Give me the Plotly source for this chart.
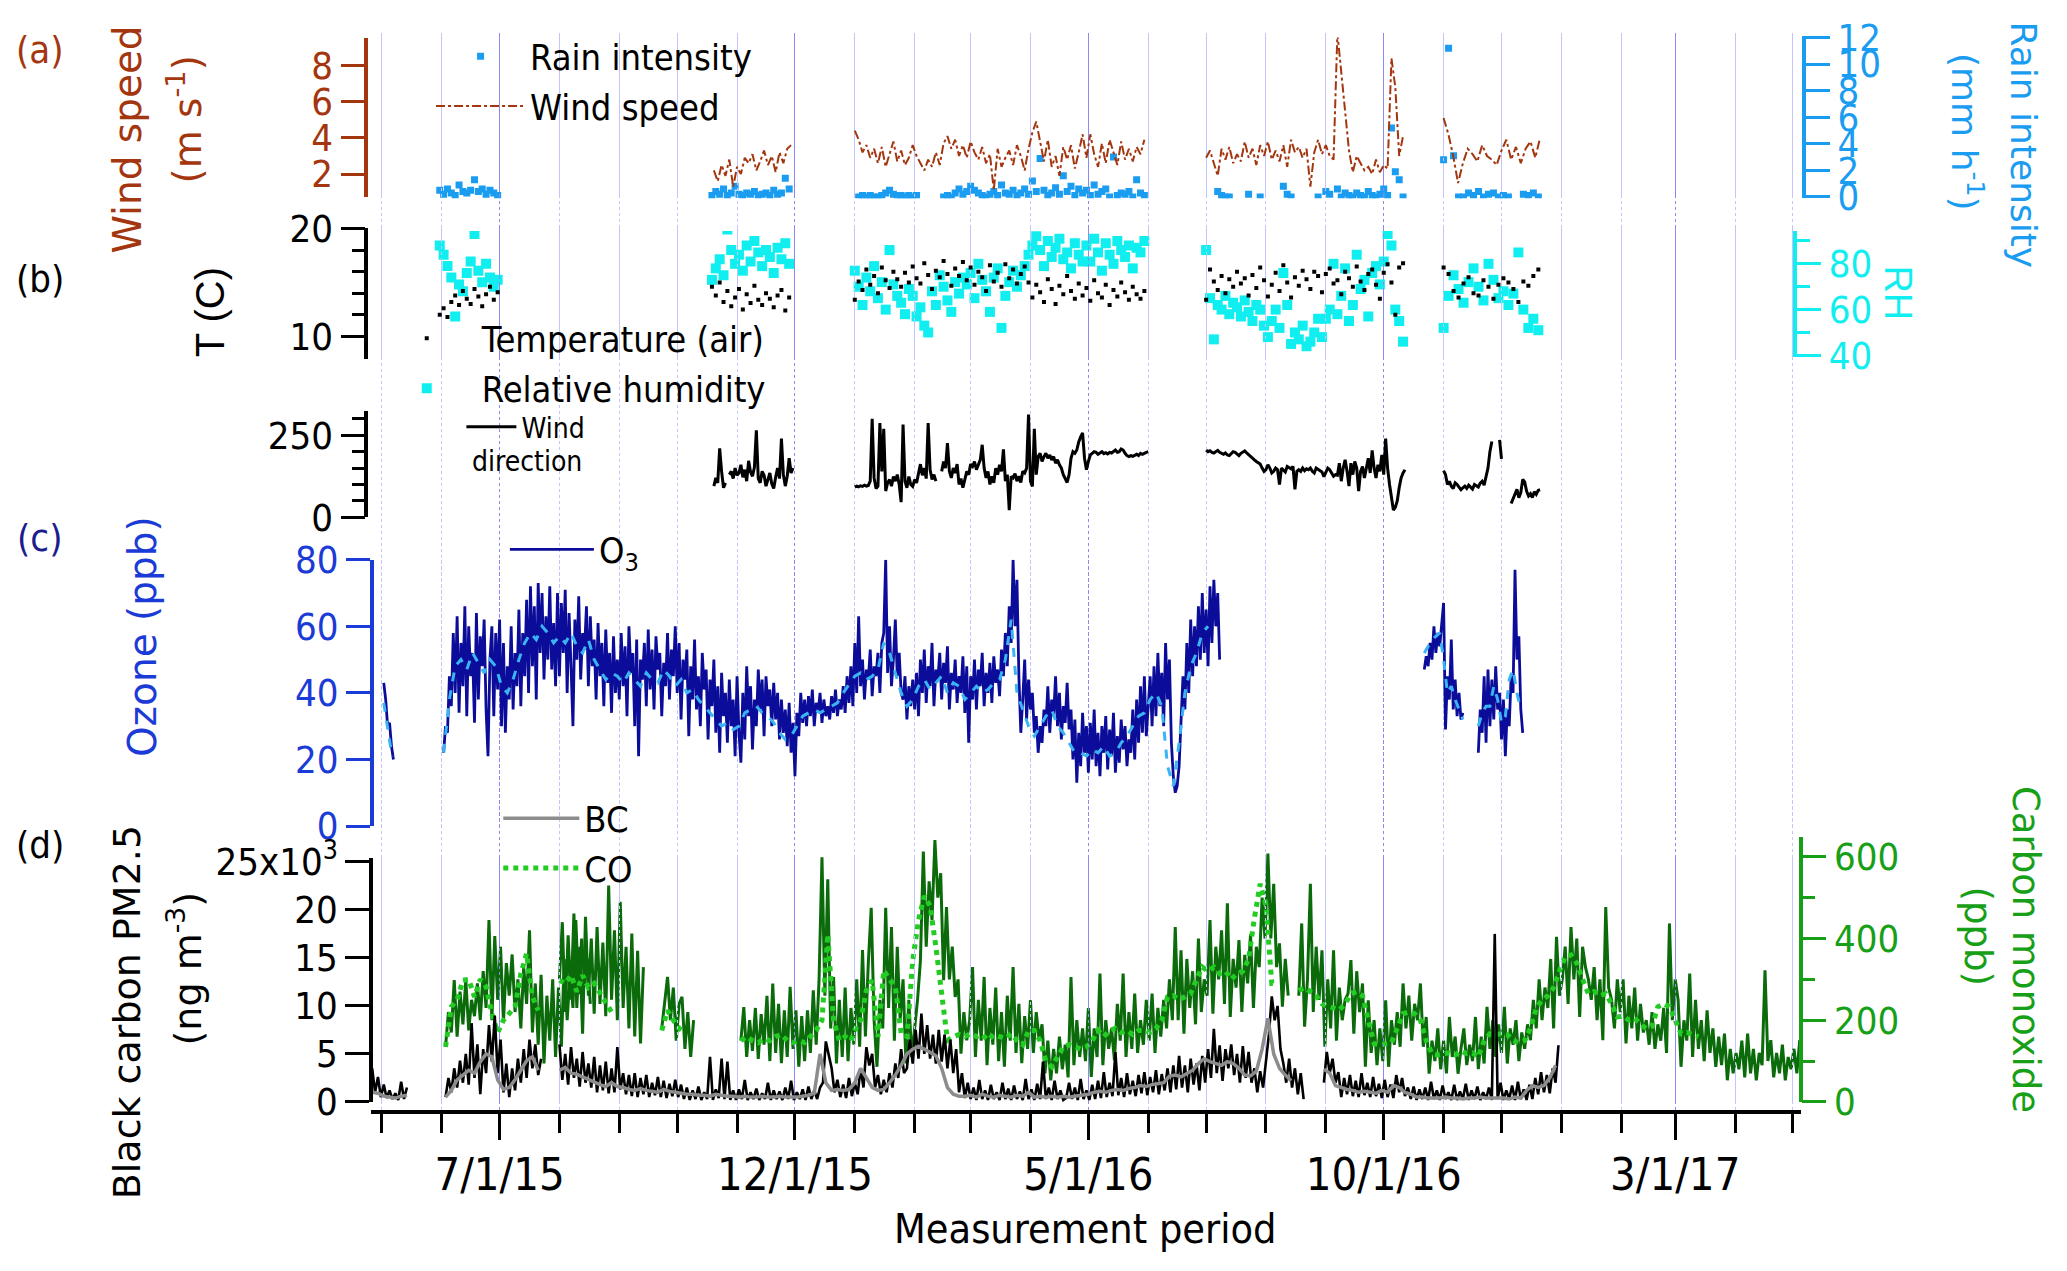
import pandas as pd
import plotly.graph_objects as go

# ---------------------------------------------------------------- data
# Wind speed (m s-1), segments: (start, step, values)
WS_STARTS = ["2015-10-20", "2016-01-01", "2016-07-01", "2016-11-01"]
WS_STEPS = ["2D", "2D", "2D", "60h"]
WS_1 = [2.2, 1.6, 2.5, 1.9, 2.8, 1.3, 2.4, 2.0, 2.9, 2.6, 3.1, 2.2, 2.7, 3.3, 2.5, 3.0, 2.1, 3.2, 2.6, 3.4, 3.6]
WS_2 = [4.4, 3.9, 3.2, 3.6, 2.9, 3.4, 2.6, 3.5, 2.4, 3.1, 3.8, 2.7, 3.3, 2.5, 2.9,
        3.6, 3.0, 2.6, 2.2, 2.8, 2.4, 3.2, 2.5, 3.7, 4.1, 3.4, 3.9, 3.0, 3.6,
        2.9, 3.8, 3.2, 2.8, 3.5, 2.6, 3.1, 1.1, 3.4, 2.4, 2.9, 3.3, 2.5, 3.6, 3.0, 2.2,
        3.4, 4.3, 4.9, 3.8, 2.7, 3.9, 2.4, 3.0, 1.9, 3.5, 2.8, 3.6, 2.3, 3.2, 4.2,
        2.9, 4.2, 3.1, 2.4, 3.7, 2.6, 3.9, 3.2, 2.5, 3.8, 2.8, 3.4, 2.7, 3.5, 3.1, 3.9]
WS_3 = [2.9, 3.3, 2.6, 1.9, 3.4, 2.8, 3.5, 2.6, 3.1, 2.7, 3.8, 2.9, 3.4, 2.5, 3.6, 3.0, 3.8, 2.8,
        3.3, 2.7, 3.6, 2.4, 3.9, 3.2, 3.5, 2.9, 3.4, 1.3, 3.2, 3.9, 3.1, 3.6, 3.0, 2.8, 9.8, 7.5,
        5.5, 3.3, 2.1, 3.0, 2.6, 2.2, 2.4, 2.0, 2.8, 2.1, 2.5, 2.3, 8.4, 6.8, 3.0, 4.1]
WS_4 = [5.1, 4.2, 3.0, 1.5, 2.6, 3.4, 3.1, 2.7, 3.6, 3.0, 2.8, 2.5, 3.3, 3.9, 2.8, 3.5, 2.6, 3.4, 3.8, 2.9, 4.0]

# Rain intensity (mm h-1)
RAIN_STARTS = ["2015-05-31", "2015-10-19", "2016-01-03", "2016-07-03", "2016-11-01"]
RAIN_STEPS = ["2D", "2D", "2D", "2D", "62h"]
RAIN_1 = [0.5, 0.2, 0.6, 0.3, 0.1, 0.9, 0.4, 0.3, 0.5, 1.3, 0.4, 0.6, 0.2, 0.5, 0.3, 0.1]
RAIN_2 = [0.1, 0.4, 0.2, 0.6, 0.1, 0.3, 0.8, 0.2, 0.1, 0.3, 0.2, 0.4, 0.1, 0.2, 0.3, 0.1, 0.5, 0.2, 0.3, 1.4, 0.6]
RAIN_3 = [0.0, 0.1, 0.0, 0.1, 0.0, 0.0, 0.1, 0.3, 0.5, 0.2, 0.1, 0.1, 0.0, 0.1, 0.0, 0.1,
          None, None, None, None, None, None,
          0.0, 0.1, 0.0, 0.3, 0.6, 0.2, 0.4, 0.8, 0.5, 0.3, 0.1, 0.0, 0.2, 0.4, 0.1, 0.9, 0.3, 0.2,
          0.5, 0.1, 0.3, 0.6, 0.2, 1.2, 0.4, 2.9, 0.5, 0.1, 0.3, 0.7, 0.2, 1.6, 0.4, 0.8, 0.1, 0.6,
          0.3, 0.5, 0.1, 0.9, 0.2, 0.4, 0.6, 0.0, 3.0, 0.1, 0.3, 0.2, 0.4, 0.0, 1.3, 0.3, 0.1]
RAIN_4 = [None, None, 0.4, 0.1, 0.0, 0.0, None, None, None, None, 0.2, None, None, 0.0, None, None,
          None, None, None, 0.8, 0.2, 0.0, None, None, None, None, None, None, 0.0, None, 0.4, 0.2,
          None, 0.6, 0.0, 0.3, 0.1, 0.0, 0.3, 0.1, 0.0, 0.4, 0.1, 0.0, 0.2, 0.6, 0.1, 5.2, 1.9, 1.3, 0.0]
RAIN_5 = [2.8, 11.2, 3.1, 0.0, 0.0, 0.3, 0.1, 0.4, 0.0, 0.2, 0.3, 0.0, 0.1, 0.0, None, None, 0.2, 0.1, 0.3, 0.0]

# Air temperature (C)
T_STARTS = ["2015-05-31", "2015-10-19", "2016-01-01", "2016-07-01", "2016-11-01"]
T_STEPS = ["2D", "2D", "2D", "2D", "62h"]
T_1 = [12.0, 12.6, 11.8, 13.2, 13.8, 12.9, 14.2, 13.5, 13.0, 14.4, 13.7, 12.8, 13.9, 14.6, 13.4, 14.1]
T_2 = [14.6, 13.8, 15.0, 13.2, 14.2, 12.8, 13.6, 14.4, 12.5, 13.9, 13.1, 14.7, 13.4, 12.9, 14.0, 13.5,
       12.7, 13.8, 14.3, 12.4, 13.6]
T_3 = [13.4, 15.1, 14.3, 16.2, 14.8, 15.6, 14.0, 16.4, 15.2, 14.5, 16.0, 15.3, 14.6, 15.9, 15.0,
       16.5, 15.4, 14.9, 16.8, 15.7, 14.4, 16.1, 15.5, 17.0, 15.8, 14.7, 16.3, 15.6, 16.9,
       15.2, 16.4, 14.8, 16.0, 15.5, 14.2, 16.6, 15.1, 15.9, 14.6, 16.7, 15.4, 16.2, 14.9, 15.8, 16.5,
       15.0, 13.6, 14.8, 14.1, 13.2, 15.3, 14.4, 13.0, 14.7, 13.9, 15.6, 14.2, 13.5, 14.9, 13.8,
       14.5, 13.3, 15.2, 14.0, 13.6, 14.8, 12.9, 14.3, 13.7, 15.0, 14.1, 13.4, 14.6, 13.9, 13.5, 14.2]
T_4 = [13.4, 16.2, 15.1, 14.3, 15.6, 14.0, 15.3, 14.6, 16.0, 14.9, 15.4, 13.8, 15.7, 14.5, 16.4, 15.2,
       13.7, 14.8, 15.9, 14.2, 16.6, 15.0, 13.6, 15.5, 14.7, 16.1, 15.3, 14.4, 16.0, 15.6, 14.1, 15.8,
       16.3, 14.9, 15.2, 13.9, 16.0, 15.4, 14.6, 16.5, 15.1, 14.3, 15.8, 16.2, 14.8, 13.5, 15.9, 16.7,
       15.0, 12.0, 16.4, 16.8]
T_5 = [16.4, 15.8, 14.2, 13.6, 14.9, 15.5, 14.0, 13.8, 15.2, 14.6, 13.5, 14.8, 15.4, 15.0, 14.4, 13.2,
       15.1, 14.7, 15.6, 16.2]

# Relative humidity (%)
RH_1 = [88, 84, 79, 74, 57, 71, 68, 76, 81, 93, 77, 72, 80, 74, 70, 73]
RH_2 = [73, 78, 82, 75, 95, 86, 80, 84, 77, 88, 81, 90, 85, 79, 86, 83, 76, 87, 82, 89, 80]
RH_3 = [77, 70, 62, 74, 68, 79, 65, 72, 60, 86, 71, 66, 63, 58, 69,
        66, 57, 61, 53, 50, 68, 62, 75, 70, 64, 59, 72, 67, 74,
        71, 76, 65, 80, 73, 68, 59, 74, 78, 52, 66, 72, 77, 70, 75, 79,
        84, 88, 92, 86, 79, 90, 83, 87, 91, 82, 85, 78, 89, 84, 81,
        88, 81, 91, 85, 77, 89, 84, 80, 90, 86, 83, 88, 78, 87, 85, 90]
RH_4 = [86, 65, 47, 62, 60, 66, 58, 63, 61, 57, 64, 59, 55, 62, 60, 53,
        48, 55, 60, 52, 76, 62, 45, 50, 47, 53, 44, 46, 50, 56, 48,
        56, 60, 80, 58, 66, 78, 55, 62, 84, 69, 73, 57, 76, 79, 71,
        81, 93, 88, 60, 55, 46]
RH_5 = [52, 66, 75, 69, 63, 72, 78, 70, 64, 80, 73, 65, 68, 62, 67, 85, 60, 52, 56, 51]

# Wind direction (deg), daily
WD_STARTS = ["2015-10-20", "2016-01-01", "2016-07-01", "2016-11-01", "2016-11-30", "2016-12-06"]
WD_1 = [95, 120, 105, 210, 140, 90, 105, None, 130, 140, 118, 150, 128, 135, 160, 122, 145, 110, 172, 138,
        125, 152, 265, 118, 105, 140, 128, 95, 115, 135, 102, 88, 122, 150, 118, 240, 130, 95, 125, 180,
        135, 150]
WD_2 = [92, 95, 93, 96, 94, 98, 95, 97, 110, 300, 120, 88, 95, 287, 140, 270, 80, 105, 115, 95,
        124, 110, 130, 100, 46, 283, 110, 90, 124, 100, 94, 115, 105, 140, 162, 128, 150, 118, 287, 145,
        115, 130, 110, None, None, 140, 170, 150, 226, 140, 120, 150, 135, 162, 100, 118, 90, 115, 140, 130,
        162, 155, 170, 145, 160, 175, 221, 150, 120, 140, 100, 125, 105, 150, 130, 160, 140, 207, 110, 130,
        22, 125, 120, 133, 110, 125, 106, 140, 135, 150, 313, 110, 94, 270, 130, 185, 195, 170, 185, 195,
        180, 190, 175, 185, 165, 175, 160, 150, 130, 115, 106, 130, 180, 200, 195, 205, 230, 245, 257, 180,
        145, 170, 190, 195, 200, 198, 192, 196, 200, 194, 197, 193, 198, 196, 200, 205, 198, 200, 208, 205,
        195, 188, 185, 188, 186, 190, 192, 188, 195, 192, 196, 198, 200]
WD_3 = [205, 200, 203, 198, 196, 200, 204, 198, 195, 192, 196, 190, 188, 194, 200, 198, 192, 188, 195, 198,
        202, 196, 190, 185, 178, 175, 170, 165, 162, 150, 140, 145, 160, 150, 135, 140, 150, 145, 100, 150,
        145, 138, 155, 150, 148, 155, 85, 140, 145, 140, 150, 142, 148, 145, 150, 140, 135, 150, 145, 142,
        138, 124, 140, 150, 145, 135, 125, 130, 128, 165, 110, 150, 175, 140, 95, 165, 130, 170, 150, 80,
        140, 155, 120, 150, 180, 135, 204, 150, 120, 160, 140, 190, 130, 240, 150, 100, 60, 22, 30, 50,
        90, 120, 135, 145]
WD_4 = [142, 130, 100, 110, 95, 88, 105, 100, 92, 84, 90, 95, 88, 98, 92, 86, 100, 96, 92, 104,
        110, 98, 120, 150, 200, 231]
WD_5 = [236, 178]
WD_6 = [42, 55, 70, 85, 60, 75, 115, 108, 80, 65, 72, 60, 78, 70, 82, 84]

# Ozone (ppb): dark = daily envelope, light = smoothed
O3_STARTS = ["2015-05-02", "2015-06-02", "2016-10-22", "2016-11-19"]
O3_1 = [43, 38, 30, 31, 24, 20]
O3_2 = [22, 30, 28, 45, 36, 58, 40, 63, 34, 55, 42, 66, 33, 60, 45, 52, 31, 64, 38, 57, 48, 62, 35, 21, 50, 60, 33, 58, 41,
        62, 30, 55, 28, 48, 38, 60, 35, 52, 42, 65, 36, 58, 45, 68, 40, 72, 48, 66, 38, 73, 52, 70, 44, 63, 50, 72, 47, 61, 42, 70,
        45, 67, 52, 71, 40, 64, 48, 30, 62, 50, 69, 44, 58, 53, 66, 42, 63, 48, 56, 38, 61, 45, 55, 36, 59, 43, 52, 34, 57, 40, 50,
        38, 58, 42, 54, 33, 60, 46, 52, 30, 56, 21, 50, 44, 55, 36, 59, 41, 53, 35, 57, 47, 52, 33, 49, 42, 58, 38, 53, 45, 60,
        40, 55, 32, 50, 44, 53, 27, 48, 38, 56, 35, 45, 30, 52, 41, 47, 26, 44, 36, 50, 28, 42, 22, 46, 33, 40, 25, 44, 30, 38, 21,
        45, 28, 19, 40, 26, 48, 33, 42, 23, 38, 30, 47, 35, 44, 27, 45, 36, 41, 30, 43, 32, 40, 26, 38, 28, 35, 24, 37, 22, 31,
        15, 34, 27, 40, 31, 38, 30, 39, 33, 41, 30, 37, 34, 40, 31, 38, 33, 36, 32, 39, 34, 41, 33, 38, 35, 42, 34, 45, 37, 48, 36,
        55, 40, 63, 42, 50, 38, 47, 44, 53, 39, 48, 45, 52, 40, 55, 58, 80, 46, 60, 42, 50, 62, 45, 52, 40, 38, 45, 32, 42, 36, 44,
        35, 46, 33, 50, 40, 53, 37, 48, 42, 55, 36, 47, 44, 52, 38, 49, 43, 54, 35, 46, 41, 50, 37, 45, 40, 51, 34, 48, 25,
        45, 38, 50, 35, 47, 42, 52, 36, 46, 40, 49, 37, 51, 43, 47, 39, 53, 45, 58, 48, 66, 55, 80, 60, 74, 45, 28, 38, 50, 32, 44,
        35, 40, 28, 33, 22, 30, 25, 35, 30, 42, 28, 38, 33, 45, 30, 40, 26, 36, 31, 43, 29, 35, 20, 32, 13, 28, 18, 34, 22, 30,
        16, 31, 20, 35, 18, 28, 15, 30, 22, 33, 17, 29, 21, 34, 16, 27, 19, 32, 23, 30, 18, 26, 22, 35, 20, 38, 25, 42, 28, 45, 27,
        35, 45, 30, 48, 33, 52, 36, 46, 30, 55, 38, 50, 25, 15, 10, 12, 18, 30, 45, 35, 55, 40, 62, 45, 60, 48, 66, 50, 70, 52,
        65, 48, 72, 55, 74, 60, 70, 50]
O3_3 = [47, 51, 48, 55, 50, 60, 52, 58, 54, 62, 67, 29, 45, 38, 56, 35, 44, 33, 40, 32, 34]
O3_4 = [22, 35, 28, 45, 25, 47, 30, 44, 32, 48, 35, 40, 26, 38, 21, 35, 30, 45, 40, 77, 50, 57, 35, 28]
O3S_STARTS = ["2015-05-02", "2015-06-02", "2016-01-01", "2016-10-22", "2016-11-19"]
O3S_1 = [37, 33, 29, 25, 22, 21]
O3S_2A = [22, 38, 48, 50, 47, 52, 49, 46, 50, 48, 42, 40, 44, 50, 55, 58, 56, 60, 58, 55,
          57, 55, 58, 54, 52, 56, 50, 47, 44, 46, 45, 43, 46, 44, 42, 46, 44, 43, 47, 45,
          42, 44, 40, 41, 38, 36, 34, 32, 30, 31, 29, 30, 34, 35, 36, 34, 33, 31, 28, 26,
          27, 30, 33, 34, 35, 34, 35, 36, 37, 40]
O3S_2B = [45, 46, 44, 45, 47, 55, 52, 46, 40, 36,
          38, 42, 44, 41, 43, 45, 40, 43, 42, 38, 40, 42, 40, 41, 43, 44, 50, 62, 40, 35,
          30, 27, 30, 33, 35, 30, 28, 25, 22, 22, 21, 23, 22, 24, 21, 22, 25, 27, 30, 33,
          34, 38, 40, 36, 18, 12, 25, 40, 48, 52, 58, 60]
O3S_3 = [52, 54, 56, 57, 58, 50, 40, 42, 38, 35, 32]
O3S_4 = [30, 34, 36, 36, 42, 38, 31, 33, 44, 47, 40, 35]

# Carbon monoxide (ppb): dark every 36 h, light smoothed every 3 days
CO_STARTS = ["2015-06-03", "2015-08-01", "2015-09-23", "2015-11-03", "2016-08-18"]
CO_A = [135, 220, 170, 298, 160, 270, 190, 300, 175, 250, 210, 290, 200, 320, 230, 445, 200, 406, 250, 380,
        196, 340, 260, 361, 220, 300, 180, 330, 240, 420, 170, 290, 140, 311, 94, 260, 150, 300, 110, 280,
        135, 350, 200, 320, 230, 445, 264, 400, 290, 350, 240]
CO_B = [300, 440, 220, 408, 250, 461, 230, 380, 167, 453, 260, 400, 216, 428, 240, 390, 210, 530, 250, 420,
        200, 490, 230, 380, 180, 412, 160, 370, 143, 330]
CO_C = [180, 250, 306, 200, 280, 150, 240, 257, 130, 220, 110, 200]
CO_D = [150, 232, 110, 200, 125, 230, 105, 215, 140, 260, 100, 290, 120, 240, 95, 224, 110, 282, 130,
        224, 86, 210, 100, 224, 120, 273, 140, 300, 599, 260, 545, 180, 306, 94, 250, 110, 280, 100, 230,
        140, 300, 135, 372, 160, 340, 475, 200, 86, 250, 180, 475, 230, 428, 150, 380, 200, 300, 94, 250, 110,
        180, 250, 346, 613, 380, 540, 445, 641, 500, 560, 298, 477, 300, 380, 257, 300, 118, 220, 151,
        200, 330, 110, 250, 150, 306, 90, 230, 140, 280, 100, 220, 86, 260, 150, 330, 120, 240, 95, 210, 130,
        249, 120, 220, 150, 190, 70, 150, 53, 130, 70, 160, 80, 140, 60, 306, 90, 200, 110, 180, 100,
        230, 61, 180, 110, 314, 90, 200, 130, 180, 102, 240, 150, 314, 110, 220, 130, 265, 120, 200, 140, 250,
        150, 265, 120, 230, 160, 250, 180, 300, 200, 428, 200, 371, 167, 350, 230, 320, 190, 400, 220, 300,
        260, 445, 216, 380, 300, 420, 240, 486, 208, 350, 280, 396, 220, 360, 290, 410, 230, 380, 330, 500, 400,
        608, 400, 534, 330, 388, 233, 350, 260]
CO_E = [260, 437, 184, 300, 534, 220, 380, 250, 371,
        135, 300, 180, 371, 150, 280, 200, 250, 265, 347, 167, 320, 220, 290, 86, 249, 120, 200, 90, 180,
        100, 249, 86, 200, 140, 220, 135, 290, 180, 260, 150, 240, 200, 290, 135, 208, 69, 150, 100, 180, 80,
        150, 70, 208, 110, 160, 69, 130, 180, 90, 140, 100, 208, 80, 160, 94, 233, 130, 200, 110, 190,
        120, 233, 94, 180, 140, 200, 100, 170, 130, 190, 151, 250, 180, 300, 200, 280, 230, 350, 180, 404, 260,
        300, 380, 240, 428, 300, 400, 208, 380, 330, 300, 250, 330, 200, 300, 151, 477, 280, 250, 180, 300, 220,
        300, 143, 260, 180, 280, 150, 240, 170, 200, 140, 220, 130, 190, 150, 230, 120, 437, 200, 300,
        250, 86, 200, 150, 314, 110, 250, 130, 200, 100, 224, 120, 180, 86, 160, 90, 167, 53, 130, 70, 120,
        80, 150, 60, 167, 70, 130, 53, 120, 90, 322, 100, 151, 60, 120, 70, 140, 53, 110, 80, 130,
        70, 151, 90]
COS_STARTS = ["2015-06-03", "2015-08-01", "2015-09-23", "2015-11-03", "2016-01-01", "2016-08-18"]
COS_A = [135, 233, 250, 298, 300, 257, 300, 282, 216, 170, 200, 215, 233, 314, 363, 257, 224]
COS_B = [298, 290, 310, 270, 310, 280, 290, 265, 240, 220]
COS_C = [175, 224, 200, 180, 170]
COS_D1 = [150, 160, 150, 145, 155, 150, 160, 165, 150, 145,
          150, 145, 160, 175, 200, 410, 200, 150, 160, 150]
COS_D2 = [175, 200, 273, 298, 159, 322, 300, 282, 167, 160,
          346, 445, 504, 480, 380, 257, 151, 160, 165, 160,
          167, 160, 165, 151, 165, 160, 155, 167, 150, 140,
          175, 175, 150, 100, 86, 110, 135, 140, 135, 130,
          135, 150, 175, 160, 175, 180, 170, 175, 165, 175,
          175, 170, 180, 200, 257, 260, 250, 257, 265, 300,
          330, 320, 330, 314, 320, 300, 314, 320, 350, 450,
          534, 480, 290, 290]
COS_E = [273, 280, 270, 260, 240,
         233, 230, 225, 240, 265, 270, 260, 200, 143, 140,
         143, 145, 180, 216, 220, 216, 200, 150, 118, 115,
         118, 120, 115, 125, 118, 120, 110, 150, 167, 165,
         167, 165, 150, 145, 150, 180, 230, 249, 260, 280,
         320, 355, 360, 340, 300, 265, 270, 260, 265, 240,
         208, 210, 200, 205, 190, 180, 185, 233, 240,
         233, 200, 167, 170, 165, 160]

# Black carbon PM2.5 (10^3 ng m-3): dark every 36 h, grey smoothed every 3 days
BC_STARTS = ["2015-04-26", "2015-06-03", "2015-08-01", "2016-08-31"]
BC_1 = [3.5, 1.0, 2.6, 0.5, 1.8, 0.4, 1.2, 0.3, 0.9, 0.2, 2.1, 0.3, 1.5]
BC_2 = [0.5, 2.5, 1.0, 3.5, 1.5, 4.3, 2.0, 5.0, 1.8, 8.2, 2.5, 6.0, 0.8, 5.5, 3.0, 8.0, 4.2, 9.0, 3.0, 6.5,
        1.0, 4.0, 0.5, 3.5, 1.2, 4.5, 2.0, 5.5, 2.5, 6.5, 3.5, 6.0, 2.8, 4.5]
BC_3 = [6.0, 2.3, 5.0, 1.8, 5.7, 2.5, 4.5, 1.6, 5.2, 2.0, 4.0, 1.5,
        4.7, 1.0, 3.8, 1.2, 4.2, 0.9, 3.5, 1.0, 5.7, 1.3, 3.0, 0.8, 2.8,
        0.6, 3.0, 0.5, 2.5, 0.8, 2.8, 0.5, 2.0, 0.7, 2.6, 0.5, 2.2, 0.4, 1.9, 0.6, 2.3, 0.5, 1.8,
        0.3, 1.5, 0.2, 1.2, 0.3, 1.6, 0.2, 1.0, 0.3, 4.7, 0.2, 1.3, 0.4, 4.5, 0.3, 4.2, 0.2,
        1.2, 0.2, 1.3, 0.3, 2.3, 0.2, 1.0, 0.3, 1.4, 0.2, 0.9, 0.3, 2.0, 0.2, 1.2, 0.3, 1.1, 0.2, 1.5, 0.3,
        2.2, 0.2, 1.0, 0.3, 1.3, 0.2, 1.6, 0.3,
        1.2, 0.3, 1.5, 2.0, 6.3, 5.0, 3.5, 1.0, 2.3, 0.5, 1.8, 0.4, 2.5,
        0.6, 2.0, 0.8, 3.5, 1.5, 5.7, 3.8, 5.0, 1.5, 2.8, 0.8, 2.3, 1.0, 3.0, 1.5, 4.0, 2.5, 5.5, 3.0,
        3.5, 6.5, 4.0, 7.5, 4.5, 9.2, 5.0, 8.0, 4.5, 7.0, 4.0, 7.5, 4.2,
        7.0, 3.5, 6.5, 3.0, 5.5, 1.0, 3.0, 0.4, 2.0, 0.3,
        1.5, 0.2, 2.3, 0.3, 1.2, 0.2, 1.8, 0.3, 1.0, 0.2, 2.0, 0.3, 1.4, 0.2, 1.7, 0.3,
        1.1, 0.2, 2.4, 0.3, 1.3, 0.2, 1.9, 0.3, 4.2, 0.3, 1.5, 0.2, 2.2, 0.3, 1.2, 0.2,
        0.4, 2.0, 0.3, 1.5, 0.2, 2.4, 0.3, 1.2, 0.2, 1.8, 0.3, 2.2,
        0.4, 3.1, 0.5, 2.0, 0.6, 5.2, 0.7, 2.5, 0.5, 3.0, 0.8, 2.2, 0.6, 2.8, 0.9, 3.1, 0.7, 2.6, 1.0, 3.3,
        0.8, 2.9, 1.2, 3.5, 1.0, 3.8, 1.3,
        4.8, 1.5, 3.8, 1.0, 4.5, 1.8, 4.0, 1.2, 4.8, 2.0, 5.5,
        2.5, 7.6, 3.0, 5.9, 2.2, 5.5, 3.5, 6.0, 2.8, 5.0, 2.0, 5.8, 2.5, 5.2, 2.0,
        3.5, 1.0, 3.2, 1.5, 4.5, 7.0, 11.0, 8.5, 10.0, 5.5, 4.0, 2.0, 4.5, 1.5, 3.5, 0.8, 3.0, 0.3]
BC_4 = [2.0, 5.2, 3.0, 4.5, 2.0,
        3.1, 0.5, 2.5, 0.8, 2.8, 0.6, 2.2, 0.5, 3.0, 0.7, 2.0, 0.5, 2.6, 0.6, 1.9, 0.4, 2.3,
        0.5, 1.8, 0.4, 2.8, 1.0, 2.5, 0.6, 1.5, 0.3, 1.6, 0.2, 1.3, 0.3, 1.5,
        0.2, 2.1, 0.3, 1.2, 0.2, 1.7, 0.3, 1.0, 0.2, 1.8, 0.2, 1.1, 0.3, 1.9, 0.2, 1.2, 0.3, 1.6, 0.2, 1.0,
        0.3, 1.5, 0.2, 17.5, 0.3, 2.0, 0.2, 1.2, 0.3, 1.7, 0.2, 2.1, 0.3, 1.3, 0.2, 1.8, 0.3,
        2.5, 0.8, 3.1, 1.0, 2.8, 0.9, 3.5, 2.0, 5.9]
BCS_STARTS = ["2015-04-26", "2015-06-03", "2015-08-01", "2016-05-01", "2016-08-31"]
BCS_1 = [1.0, 0.9, 0.6, 0.5, 0.4, 0.6, 0.7]
BCS_2 = [0.5, 1.2, 2.3, 2.8, 3.3, 3.0, 4.2, 5.0, 4.7, 2.3, 1.3, 1.5, 2.3, 3.3, 4.3, 4.7, 3.3]
BCS_3A = [3.3, 3.6, 3.0, 2.9, 2.6, 2.3, 2.0, 1.8, 1.6, 2.0,
          1.6, 1.5, 1.3, 1.2, 1.4, 1.2, 1.1, 1.0, 1.3, 1.1,
          1.0, 0.9, 0.8, 0.8, 0.7, 0.7, 0.6, 0.8, 0.7, 0.6,
          0.6, 0.5, 0.6, 0.5, 0.5, 0.6, 0.5, 0.5, 0.6, 0.5,
          0.5, 0.5, 0.6, 0.7, 0.9, 5.0, 2.0, 1.2, 1.3, 1.2,
          1.3, 2.0, 3.5, 2.5, 1.5, 1.2, 1.3, 2.0, 2.8, 3.8,
          5.0, 5.5, 5.8, 5.5, 5.2, 4.8, 3.5, 1.5, 0.8, 0.6,
          0.6, 0.7, 0.5, 0.8, 0.6, 0.5, 0.7, 0.6, 0.5, 0.7,
          0.6, 1.0, 0.5, 0.6, 0.5, 0.6, 0.5, 0.6, 0.5, 0.6]
BCS_3B = [0.8, 1.0, 1.1, 1.0, 1.2, 1.3, 1.2, 1.4, 1.5, 1.7,
          1.6, 1.8, 1.9, 2.0, 2.7, 2.8, 2.6, 2.9, 3.3, 4.0,
          4.5, 4.2, 4.0, 3.8, 4.2, 4.0, 3.5, 2.8, 2.7, 3.2,
          5.5, 8.7, 5.0, 3.5, 2.8, 2.2]
BCS_4 = [3.4, 3.0, 1.7, 1.5, 1.3, 1.2, 1.0, 1.1, 1.0, 0.9,
         1.2, 1.0, 1.7, 1.5, 1.0, 0.8, 0.5, 0.5, 0.4, 0.4,
         0.4, 0.5, 0.4, 0.4, 0.3, 0.4, 0.4, 0.5, 0.4, 0.4,
         0.4, 0.4, 0.3, 0.5, 0.4, 1.2, 1.7, 1.5, 1.7, 2.5, 3.8]

# x-axis ticks
MAJOR_TICKS = ["2015-07-01", "2015-12-01", "2016-05-01", "2016-10-01", "2017-03-01"]
MAJOR_LABELS = ["7/1/15", "12/1/15", "5/1/16", "10/1/16", "3/1/17"]
X_RANGE = ["2015-04-25 12:00", "2017-05-05"]

# ---------------------------------------------------------------- helpers
PAGE_W, PAGE_H = 2067, 1271
BODY = 8                      # default page margin of the html body
W, H = PAGE_W - BODY, PAGE_H - BODY
DW, DH = 1568.0, 964.0        # layout sketched in these units
K = PAGE_W / DW


def PX(d):
    return (d * K - BODY) / W


def PY(d):
    return 1 - (d * K - BODY) / H


def series(starts, steps, lists, joined=()):
    """Concatenate segments; a break (None) is put before every segment
    except those whose index is listed in `joined` (contiguous pieces)."""
    xs, ys = [], []
    for i, (s, st, vals) in enumerate(zip(starts, steps, lists)):
        if i and i not in joined:
            xs.append(None)
            ys.append(None)
        idx = pd.date_range(s, periods=len(vals), freq=st)
        xs += [t.strftime("%Y-%m-%d %H:%M") for t in idx]
        ys += list(vals)
    return xs, ys


NARROW = "Liberation Sans Narrow, Arial Narrow, DejaVu Sans Condensed, Liberation Sans, sans-serif"
WIDE = "DejaVu Sans, Verdana, sans-serif"
PLAIN = "Liberation Sans, Arial, sans-serif"

BROWN = "#a3360f"
RAINC = "#1a9cf0"
CYAN = "#10eef0"
NAVY = "#0c0c9a"
LBLUE = "#3ab4f4"
OZC = "#1b3bd6"
DKG = "#0b6b0b"
LTG = "#22cc22"
COC = "#17a017"
GREY = "#8c8c8c"

fig = go.Figure()

# dummy full-height subplot (carries the monthly grid)
fig.add_trace(go.Scatter(x=[], y=[], xaxis="x", yaxis="y", showlegend=False, hoverinfo="skip"))

# (a) rain + wind speed
x, y = series(RAIN_STARTS, RAIN_STEPS, [RAIN_1, RAIN_2, RAIN_3, RAIN_4, RAIN_5])
fig.add_trace(go.Scatter(x=x, y=y, yaxis="y2", mode="markers", name="Rain intensity",
                         marker=dict(symbol="square", size=7, color=RAINC, line=dict(width=0)),
                         legend="legend"))
x, y = series(WS_STARTS, WS_STEPS, [WS_1, WS_2, WS_3, WS_4])
fig.add_trace(go.Scatter(x=x, y=y, yaxis="y3", mode="lines", name="Wind speed",
                         line=dict(color=BROWN, width=2, dash="dashdot"), legend="legend"))

# (b) RH + T
x, y = series(T_STARTS, T_STEPS, [RH_1, RH_2, RH_3, RH_4, RH_5])
fig.add_trace(go.Scatter(x=x, y=y, yaxis="y4", mode="markers", name="Relative humidity",
                         marker=dict(symbol="square", size=10, color=CYAN, line=dict(width=0)),
                         legend="legend2", legendrank=2))
x, y = series(T_STARTS, T_STEPS, [T_1, T_2, T_3, T_4, T_5])
fig.add_trace(go.Scatter(x=x, y=y, yaxis="y5", mode="markers", name="Temperature (air)",
                         marker=dict(symbol="square", size=4, color="black", line=dict(width=0)),
                         legend="legend2", legendrank=1))

# wind direction
x, y = series(WD_STARTS, ["1D"] * 6, [WD_1, WD_2, WD_3, WD_4, WD_5, WD_6])
fig.add_trace(go.Scatter(x=x, y=y, yaxis="y6", mode="lines", name="Wind",
                         line=dict(color="black", width=3), legend="legend3"))

# (c) ozone
x, y = series(O3_STARTS, ["1D"] * 4, [O3_1, O3_2, O3_3, O3_4])
fig.add_trace(go.Scatter(x=x, y=y, yaxis="y7", mode="lines", name="O<sub>3</sub>",
                         line=dict(color=NAVY, width=2.8), legend="legend4"))
x, y = series(O3S_STARTS, ["1D", "3D", "3D", "2D", "2D"], [O3S_1, O3S_2A, O3S_2B, O3S_3, O3S_4],
              joined=(2,))
fig.add_trace(go.Scatter(x=x, y=y, yaxis="y7", mode="lines", showlegend=False,
                         line=dict(color=LBLUE, width=3, dash="dash")))

# (d) CO then BC
x, y = series(CO_STARTS, ["36h"] * 5, [CO_A, CO_B, CO_C, CO_D, CO_E])
fig.add_trace(go.Scatter(x=x, y=y, yaxis="y8", mode="lines", showlegend=False,
                         line=dict(color=DKG, width=3)))
x, y = series(COS_STARTS, ["3D"] * 6, [COS_A, COS_B, COS_C, COS_D1, COS_D2, COS_E], joined=(4,))
fig.add_trace(go.Scatter(x=x, y=y, yaxis="y8", mode="lines", name="CO",
                         line=dict(color=LTG, width=5, dash="dot"), legend="legend5", legendrank=2))
x, y = series(BC_STARTS, ["36h"] * 4, [BC_1, BC_2, BC_3, BC_4])
fig.add_trace(go.Scatter(x=x, y=y, yaxis="y9", mode="lines", showlegend=False,
                         line=dict(color="black", width=2.6)))
x, y = series(BCS_STARTS, ["3D"] * 5, [BCS_1, BCS_2, BCS_3A, BCS_3B, BCS_4], joined=(3,))
fig.add_trace(go.Scatter(x=x, y=y, yaxis="y9", mode="lines", name="BC",
                         line=dict(color=GREY, width=3.5), legend="legend5", legendrank=1))


def yax(dom, rng, color, pos, side, tickvals, ticktext=None, minor=None):
    d = dict(domain=[PY(dom[1]), PY(dom[0])], range=rng, anchor="free", position=PX(pos), side=side,
             showline=True, linecolor=color, linewidth=3.5, ticks="outside", ticklen=24, tickwidth=3,
             tickcolor=color, tickmode="array", tickvals=tickvals,
             tickfont=dict(family=NARROW, size=38, color=color),
             showgrid=False, zeroline=False, fixedrange=True, automargin=False)
    if ticktext is not None:
        d["ticktext"] = ticktext
    if minor is not None:
        d["minor"] = dict(tickmode="array", tickvals=minor, ticks="outside", ticklen=13,
                          tickwidth=3, tickcolor=color, showgrid=False)
    return d


MONTHS = [t.strftime("%Y-%m-%d") for t in pd.date_range("2015-05-01", "2017-05-01", freq="MS")]

layout = dict(
    width=W, height=H, autosize=False,
    margin=dict(l=0, r=0, t=0, b=0, pad=0, autoexpand=False),
    paper_bgcolor="white", plot_bgcolor="rgba(0,0,0,0)",
    xaxis=dict(domain=[PX(281.6), PX(1366)], range=X_RANGE, type="date", anchor="y",
               showline=True, linecolor="black", linewidth=4, ticks="outside", ticklen=26, tickwidth=3,
               tickcolor="black", tickmode="array", tickvals=MAJOR_TICKS, ticktext=MAJOR_LABELS,
               tickfont=dict(family=NARROW, size=45, color="black"), ticklabelstandoff=-4,
               showgrid=True, gridcolor="#8a8af2", griddash="dot", gridwidth=1.4,
               minor=dict(tickmode="array", tickvals=MONTHS, ticks="outside", ticklen=19, tickwidth=3,
                          tickcolor="black", showgrid=True, gridcolor="#c4c4ff", griddash="dot",
                          gridwidth=1.4),
               zeroline=False, fixedrange=True, automargin=False),
    yaxis=dict(domain=[PY(842.2), PY(25)], range=[0, 1], visible=False, fixedrange=True, automargin=False),
    yaxis2=yax((27.5, 150.4), [-0.1, 12.1], RAINC, 1368.6, "right", [0, 2, 4, 6, 8, 10, 12]),
    yaxis3=yax((28.5, 149.6), [0.72, 9.55], BROWN, 278, "left", [2, 4, 6, 8]),
    yaxis4=yax((175.3, 270.8), [39.3, 94.3], CYAN, 1362, "right", [40, 60, 80], minor=[50, 70, 90]),
    yaxis5=yax((172.7, 272), [7.93, 20.1], "black", 278, "left", [10, 20], minor=[12, 14, 16, 18]),
    yaxis6=yax((312.1, 392.4), [0, 322.7], "black", 278, "left", [0, 250], minor=[50, 100, 150, 200, 300]),
    yaxis7=yax((424.6, 626.6), [0, 80], OZC, 282, "left", [0, 20, 40, 60, 80]),
    yaxis8=yax((634.8, 835.9), [0, 649], COC, 1366, "right", [0, 200, 400, 600], minor=[100, 300, 500]),
    yaxis9=yax((651.2, 835.9), [0, 25.36], "black", 281.6, "left", [0, 5, 10, 15, 20, 25],
               ticktext=["0", "5", "10", "15", "20", "25x10<sup>3</sup>"]),
    showlegend=True,
)

LEG = dict(bgcolor="rgba(0,0,0,0)", borderwidth=0, xanchor="left", yanchor="top",
           tracegroupgap=0, itemclick=False, itemdoubleclick=False)
layout["legend"] = dict(LEG, x=PX(327), y=PY(20), itemwidth=89,
                        font=dict(family=NARROW, size=36, color="black"))
layout["legend2"] = dict(LEG, x=PX(282), y=PY(234), itemwidth=100,
                         font=dict(family=NARROW, size=36, color="black"))
layout["legend3"] = dict(LEG, x=PX(350), y=PY(305), itemwidth=50,
                         font=dict(family=NARROW, size=28, color="black"))
layout["legend4"] = dict(LEG, x=PX(383), y=PY(394), itemwidth=84,
                         font=dict(family=NARROW, size=36, color="black"))
layout["legend5"] = dict(LEG, x=PX(378), y=PY(598), itemwidth=76,
                         font=dict(family=NARROW, size=36, color="black"))

ANN = [
    ("(a)", 30, 38, 0, BROWN, NARROW, 38),
    ("(b)", 30, 212, 0, "black", NARROW, 38),
    ("(c)", 30, 408, 0, "#1c1c8c", NARROW, 38),
    ("(d)", 30, 641, 0, "black", NARROW, 38),
    ("Wind speed", 97, 106, -90, BROWN, WIDE, 39),
    ("(m s<sup>-1</sup>)", 140, 91, -90, BROWN, WIDE, 39),
    ("T (C)", 160, 237, -90, "black", PLAIN, 40),
    ("Ozone (ppb)", 108, 483, -90, OZC, WIDE, 39),
    ("Black carbon PM2.5", 97, 768, -90, "black", WIDE, 38),
    ("(ng m<sup>-3</sup>)", 140, 735, -90, "black", WIDE, 38),
    ("Rain intensity", 1535, 110, 90, RAINC, WIDE, 36),
    ("(mm h<sup>-1</sup>)", 1492, 100, 90, RAINC, WIDE, 36),
    ("RH", 1440, 222, 90, CYAN, PLAIN, 38),
    ("Carbon monoxide", 1537, 720, 90, COC, WIDE, 37),
    ("(ppb)", 1500, 710, 90, COC, WIDE, 37),
    ("Measurement period", 823, 932, 0, "black", NARROW, 41),
    ("direction", 400, 350, 0, "black", NARROW, 28),
]
layout["annotations"] = [
    dict(text=t, x=PX(ax), y=PY(ay), xref="paper", yref="paper", showarrow=False,
         textangle=ang, xanchor="center", yanchor="middle",
         font=dict(family=fam, size=sz, color=col))
    for (t, ax, ay, ang, col, fam, sz) in ANN
]

fig.update_layout(**layout)
fig.write_html("out.html", include_plotlyjs=True, config={"displayModeBar": False})
